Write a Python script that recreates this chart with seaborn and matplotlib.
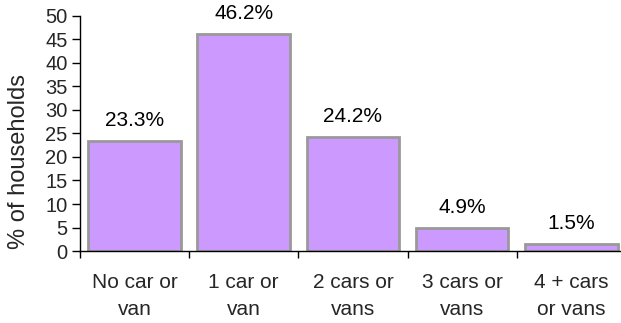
import matplotlib
matplotlib.use("Agg")
import matplotlib.pyplot as plt
import seaborn as sns
import pandas as pd

categories = ["No car or\nvan", "1 car or\nvan", "2 cars or\nvans", "3 cars or\nvans", "4 + cars\nor vans"]
values = [23.3, 46.2, 24.2, 4.9, 1.5]
labels = ["23.3%", "46.2%", "24.2%", "4.9%", "1.5%"]

sns.set_style("white")
plt.rcParams["font.family"] = ["Liberation Sans", "DejaVu Sans"]

df = pd.DataFrame({"cat": categories, "val": values})

fig = plt.figure(figsize=(6.21, 3.23), dpi=100)
ax = fig.add_axes([0.1288, 0.2229, 0.879, 0.7276])

sns.barplot(data=df, x="cat", y="val", color="#CC99FF", saturation=1,
            edgecolor="#999999", linewidth=2, width=0.85, ax=ax)

for p, lab in zip(ax.patches, labels):
    ax.annotate(lab, (p.get_x() + p.get_width() / 2, p.get_height()),
                xytext=(0, 11), textcoords="offset points",
                ha="center", va="baseline", fontsize=15, color="black")

ax.set_xlim(-0.5, 4.5)
ax.set_ylim(0, 50)
ax.set_yticks(range(0, 51, 5))
ax.set_xticks([i - 0.5 for i in range(6)], minor=False)
ax.set_xticklabels([])
ax.set_xticks(range(5), minor=True)
ax.set_xticklabels(categories, minor=True, fontsize=15, linespacing=1.5)
ax.tick_params(axis="x", which="major", direction="out", length=5, width=1, color="black", bottom=True)
ax.tick_params(axis="x", which="minor", length=0, pad=16)
ax.tick_params(axis="y", direction="out", length=6, width=1, color="black", left=True, labelsize=14.5, pad=3)

ax.set_xlabel("")
ax.set_ylabel("% of households", fontsize=17)
ax.yaxis.set_label_coords(-0.092, 0.379)

for s in ["top", "right"]:
    ax.spines[s].set_visible(False)
for s in ["left", "bottom"]:
    ax.spines[s].set_color("black")
    ax.spines[s].set_linewidth(1)

fig.savefig("out.png", dpi=100)
